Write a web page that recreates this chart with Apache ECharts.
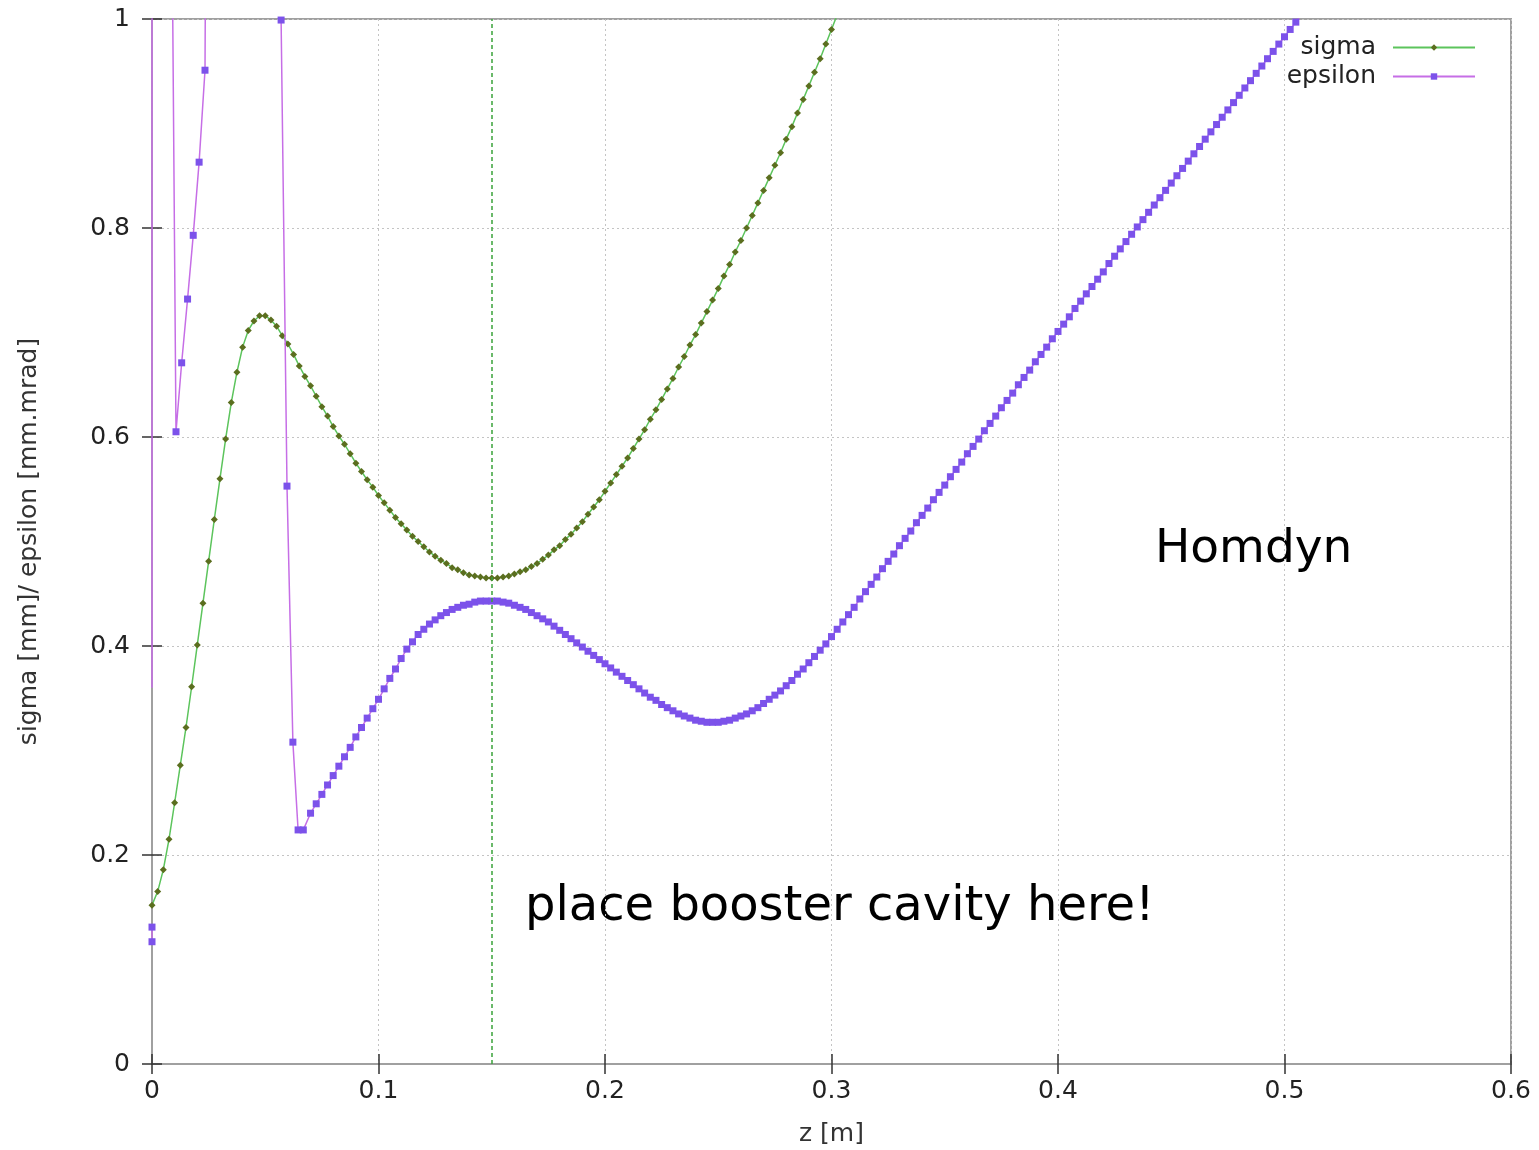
<!DOCTYPE html>
<html>
<head>
<meta charset="utf-8">
<title>Homdyn sigma / epsilon</title>
<script src="https://cdn.jsdelivr.net/npm/echarts@6/dist/echarts.min.js"></script>
<style>
  html, body { margin: 0; padding: 0; background: #fff; overflow: hidden; }
  #chart { width: 1539px; height: 1150px; }
</style>
</head>
<body>
<div id="chart"></div>
<script>
// sampling step of the Homdyn output along z [m]
const zStep = 0.0025;

// sigma [mm], one value per zStep starting at z = 0
const sigmaValues = [
  0.152, 0.165, 0.186, 0.215, 0.250, 0.286, 0.322, 0.361, 0.401, 0.441,
  0.481, 0.521, 0.560, 0.598, 0.633, 0.662, 0.686, 0.702, 0.711, 0.716,
  0.716, 0.712, 0.706, 0.697, 0.689, 0.679, 0.668, 0.658, 0.649, 0.639,
  0.629, 0.620, 0.610, 0.601, 0.593, 0.584, 0.575, 0.567, 0.559, 0.552,
  0.544, 0.537, 0.530, 0.523, 0.517, 0.511, 0.505, 0.500, 0.495, 0.490,
  0.486, 0.482, 0.479, 0.475, 0.473, 0.470, 0.468, 0.467, 0.466, 0.465,
  0.465, 0.465, 0.466, 0.467, 0.469, 0.471, 0.473, 0.476, 0.479, 0.483,
  0.487, 0.492, 0.496, 0.502, 0.507, 0.513, 0.519, 0.526, 0.533, 0.540,
  0.548, 0.556, 0.564, 0.572, 0.580, 0.589, 0.598, 0.607, 0.617, 0.626,
  0.636, 0.646, 0.656, 0.667, 0.677, 0.688, 0.698, 0.709, 0.720, 0.731,
  0.742, 0.754, 0.765, 0.777, 0.788, 0.800, 0.812, 0.824, 0.836, 0.848,
  0.860, 0.872, 0.885, 0.897, 0.910, 0.923, 0.936, 0.949, 0.962, 0.976,
  0.990, 1.004, 1.018
];

// epsilon [mm.mrad], irregular start (null = gap in the line)
const epsHeadZ = [0, 0, 0, 0, 0, 0.0088, 0.0106, 0.0131, 0.0157, 0.0182, 0.0208, 0.0234, 0.0255, 0.057, 0.0596, 0.0622, 0.0645, 0.0668];
const epsHeadV = [0.117, 0.131, null, 0.36, 1.6, 1.1, 0.605, 0.671, 0.732, 0.793, 0.863, 0.951, 1.9, 0.999, 0.553, 0.308, 0.224, 0.224];

// epsilon after the dip, one value per zStep starting at z = 0.07
const epsTailStart = 0.07;
const epsTailValues = [
  0.240, 0.249, 0.258, 0.267, 0.276, 0.285, 0.294, 0.303, 0.313, 0.322,
  0.331, 0.340, 0.349, 0.359, 0.369, 0.378, 0.388, 0.397, 0.404, 0.411,
  0.416, 0.421, 0.425, 0.429, 0.432, 0.435, 0.437, 0.439, 0.440, 0.442,
  0.443, 0.443, 0.443, 0.443, 0.442, 0.441, 0.439, 0.437, 0.435, 0.432,
  0.429, 0.426, 0.423, 0.419, 0.415, 0.411, 0.407, 0.403, 0.399, 0.395,
  0.391, 0.387, 0.383, 0.379, 0.375, 0.371, 0.367, 0.363, 0.359, 0.355,
  0.351, 0.348, 0.344, 0.341, 0.338, 0.335, 0.333, 0.331, 0.329, 0.328,
  0.327, 0.327, 0.327, 0.328, 0.329, 0.331, 0.333, 0.335, 0.338, 0.341,
  0.345, 0.349, 0.353, 0.357, 0.362, 0.367, 0.373, 0.378, 0.384, 0.390,
  0.396, 0.402, 0.409, 0.416, 0.423,
  0.430, 0.437, 0.445, 0.452, 0.459, 0.466, 0.474, 0.481, 0.488, 0.496,
  0.503, 0.510, 0.518, 0.525, 0.532, 0.540, 0.547, 0.554, 0.562, 0.569,
  0.576, 0.584, 0.591, 0.598, 0.606, 0.613, 0.620, 0.628, 0.635, 0.642,
  0.650, 0.657, 0.664, 0.672, 0.679, 0.686, 0.694, 0.701, 0.708, 0.715,
  0.723, 0.730, 0.737, 0.744, 0.751, 0.758, 0.766, 0.773, 0.780, 0.787,
  0.794, 0.801, 0.808, 0.815, 0.822, 0.829, 0.836, 0.843, 0.850, 0.857,
  0.864, 0.871, 0.878, 0.885, 0.892, 0.899, 0.906, 0.913, 0.920, 0.927,
  0.934, 0.941, 0.948, 0.955, 0.962, 0.969, 0.976, 0.983, 0.990, 0.997,
  1.004
];

const boosterZ = 0.1485;
const xTicks = { min: 0, max: 0.6, interval: 0.1 };
const yTicks = { min: 0, max: 1, interval: 0.2 };

const fontFamily = "DejaVu Sans";

const round = (v) => Math.round(v * 10000) / 10000;
const sigmaData = sigmaValues.map((v, i) => [round(i * zStep), v]);
const epsData = epsHeadZ.map((z, i) => [z, epsHeadV[i] === null ? "-" : epsHeadV[i]])
  .concat(epsTailValues.map((v, i) => [round(epsTailStart + i * zStep), v]));
// the restart of the line on the axis has no point drawn
epsData[3] = { value: epsData[3], symbol: "none" };

const chart = echarts.init(document.getElementById("chart"));

const gridDots = { show: true, lineStyle: { color: "#c4c4c4", type: [2, 3], width: 1 } };
const tickIn = { show: true, inside: true, length: 10, lineStyle: { color: "#333", width: 1.5 } };

const option = {
  animation: false,
  backgroundColor: "#fff",
  textStyle: { fontFamily: fontFamily },
  grid: {
    left: 152, right: 28, top: 19, bottom: 86,
    outerBoundsMode: "none",
    show: true, borderColor: "#a0a0a0", borderWidth: 2, backgroundColor: "#fff"
  },
  legend: {
    orient: "vertical",
    right: 58,
    top: 30,
    align: "right",
    itemWidth: 82,
    itemHeight: 8,
    itemGap: 4,
    textStyle: { fontSize: 25, color: "#222", fontFamily: fontFamily, padding: [0, 12, 0, 0] },
    data: ["sigma", "epsilon"]
  },
  xAxis: [
    {
      type: "value",
      min: xTicks.min, max: xTicks.max, interval: xTicks.interval,
      name: "z [m]", nameLocation: "middle", nameGap: 58,
      nameTextStyle: { fontSize: 25, color: "#333" },
      axisLine: { show: true, lineStyle: { color: "#a0a0a0", width: 2 } },
      axisTick: tickIn,
      axisLabel: { fontSize: 25, color: "#222", margin: 15 },
      splitLine: gridDots
    },
    {
      type: "value", position: "top",
      min: xTicks.min, max: xTicks.max, interval: xTicks.interval,
      axisLine: { show: false }, axisTick: tickIn, axisLabel: { show: false }, splitLine: { show: false }
    }
  ],
  yAxis: [
    {
      type: "value",
      min: yTicks.min, max: yTicks.max, interval: yTicks.interval,
      name: "sigma [mm]/ epsilon [mm.mrad]", nameLocation: "middle", nameGap: 110,
      nameTextStyle: { fontSize: 25, color: "#333" },
      axisLine: { show: true, lineStyle: { color: "#a0a0a0", width: 2 } },
      axisTick: tickIn,
      axisLabel: { fontSize: 25, color: "#222", margin: 22 },
      splitLine: gridDots
    },
    {
      type: "value", position: "right",
      min: yTicks.min, max: yTicks.max, interval: yTicks.interval,
      axisLine: { show: false }, axisTick: tickIn, axisLabel: { show: false }, splitLine: { show: false }
    }
  ],
  series: [
    {
      name: "sigma",
      type: "line",
      data: sigmaData,
      clip: true,
      symbol: "diamond",
      symbolSize: 7,
      showAllSymbol: true,
      lineStyle: { color: "#5cc45c", width: 1.5 },
      itemStyle: { color: "#5b6e1f" },
      z: 3,
      markLine: {
        silent: true,
        symbol: "none",
        label: { show: false },
        lineStyle: { color: "#3aa33a", type: [4, 3], width: 1.5 },
        data: [{ xAxis: boosterZ }]
      }
    },
    {
      name: "epsilon",
      type: "line",
      data: epsData,
      clip: true,
      symbol: "rect",
      symbolSize: 7,
      showAllSymbol: true,
      lineStyle: { color: "#c66ee6", width: 1.5 },
      itemStyle: { color: "#7c52ea" },
      z: 4
    }
  ],
  graphic: [
    {
      type: "text", left: 1155, top: 526,
      style: { text: "Homdyn", fontSize: 47, fontFamily: fontFamily, fill: "#000" }
    },
    {
      type: "text", left: 525, top: 884,
      style: { text: "place booster cavity here!", fontSize: 48, fontFamily: fontFamily, fill: "#000" }
    }
  ]
};

chart.setOption(option);
</script>
</body>
</html>
